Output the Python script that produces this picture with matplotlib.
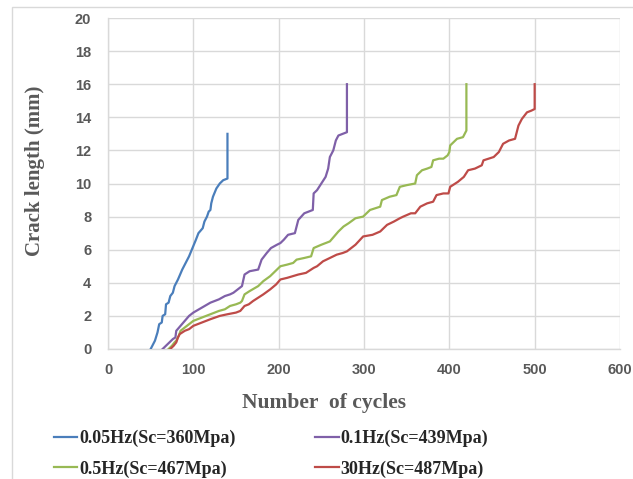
import matplotlib
matplotlib.use("Agg")
import matplotlib.pyplot as plt
from matplotlib.patches import Rectangle

blue_x = [50, 55, 58, 60, 63, 64, 67, 68, 71, 73, 76, 78, 82, 87, 91, 95, 99, 103, 106, 111, 113, 116, 118, 120, 121, 123, 127, 131, 135, 140, 140]
blue_y = [0, 0.5, 1.0, 1.5, 1.6, 2.0, 2.1, 2.7, 2.8, 3.2, 3.4, 3.8, 4.2, 4.8, 5.2, 5.6, 6.1, 6.6, 7.0, 7.3, 7.7, 8.0, 8.3, 8.4, 8.8, 9.2, 9.7, 10.0, 10.2, 10.3, 13.0]

purple_x = [64, 68, 72, 76, 79, 80, 85, 90, 95, 100, 110, 120, 130, 137, 143, 147, 152, 157, 160, 166, 176, 180, 186, 191, 198, 202, 206, 211, 219, 223, 230, 235, 240, 241, 245, 250, 255, 258, 260, 264, 267, 270, 275, 280, 280]
purple_y = [0, 0.2, 0.4, 0.6, 0.7, 1.1, 1.4, 1.7, 2.0, 2.2, 2.5, 2.8, 3.0, 3.2, 3.3, 3.4, 3.6, 3.8, 4.5, 4.7, 4.8, 5.4, 5.8, 6.1, 6.3, 6.4, 6.6, 6.9, 7.0, 7.8, 8.2, 8.3, 8.4, 9.4, 9.6, 10.0, 10.4, 10.9, 11.6, 12.0, 12.6, 12.9, 13.0, 13.1, 16.0]

green_x = [71, 75, 78, 80, 83, 85, 90, 95, 100, 110, 120, 130, 137, 143, 150, 155, 157, 160, 166, 176, 182, 190, 196, 202, 210, 217, 221, 230, 238, 241, 250, 260, 265, 270, 276, 282, 290, 299, 307, 313, 319, 321, 330, 338, 342, 350, 360, 362, 368, 374, 379, 381, 388, 393, 398, 400, 401, 405, 409, 416, 420, 420]
green_y = [0, 0.2, 0.4, 0.5, 0.8, 1.1, 1.3, 1.5, 1.7, 1.9, 2.1, 2.3, 2.4, 2.6, 2.7, 2.8, 2.9, 3.3, 3.5, 3.8, 4.1, 4.4, 4.7, 5.0, 5.1, 5.2, 5.4, 5.5, 5.6, 6.1, 6.3, 6.5, 6.8, 7.1, 7.4, 7.6, 7.9, 8.0, 8.4, 8.5, 8.6, 9.0, 9.2, 9.3, 9.8, 9.9, 10.0, 10.5, 10.8, 10.9, 11.0, 11.4, 11.5, 11.5, 11.7, 11.9, 12.3, 12.5, 12.7, 12.8, 13.2, 16.0]

red_x = [73, 77, 80, 82, 84, 90, 95, 100, 110, 120, 131, 140, 150, 155, 160, 165, 170, 176, 182, 190, 197, 202, 210, 223, 232, 241, 245, 252, 260, 268, 275, 280, 290, 299, 310, 319, 327, 335, 342, 346, 355, 360, 366, 374, 381, 385, 393, 399, 401, 410, 417, 422, 430, 438, 440, 452, 458, 463, 470, 477, 481, 485, 491, 496, 500, 500]
red_y = [0, 0.2, 0.4, 0.7, 0.9, 1.1, 1.2, 1.4, 1.6, 1.8, 2.0, 2.1, 2.2, 2.3, 2.6, 2.7, 2.9, 3.1, 3.3, 3.6, 3.9, 4.2, 4.3, 4.5, 4.6, 4.9, 5.0, 5.3, 5.5, 5.7, 5.8, 5.9, 6.3, 6.8, 6.9, 7.1, 7.5, 7.7, 7.9, 8.0, 8.2, 8.2, 8.6, 8.8, 8.9, 9.3, 9.4, 9.4, 9.8, 10.1, 10.4, 10.8, 10.9, 11.1, 11.4, 11.6, 11.9, 12.4, 12.6, 12.7, 13.5, 13.9, 14.3, 14.4, 14.5, 16.0]

labels = ["0.05Hz(Sc=360Mpa)", "0.1Hz(Sc=439Mpa)", "0.5Hz(Sc=467Mpa)", "30Hz(Sc=487Mpa)"]
colors = ["#4A7EBB", "#7F60A8", "#98B954", "#BE4B48"]

W, H = 633, 479
fig = plt.figure(figsize=(W / 100, H / 100), dpi=100)
ax = fig.add_axes([108 / W, 1 - 349 / H, (620 - 108) / W, (349 - 18) / H])

series = [(blue_x, blue_y), (purple_x, purple_y), (green_x, green_y), (red_x, red_y)]
handles = []
for (xs, ys), c, lab in zip(series, colors, labels):
    h, = ax.plot(xs, ys, color=c, lw=1.6, label=lab, solid_joinstyle="round", zorder=3)
    handles.append(h)

ax.set_xlim(0, 600)
ax.set_ylim(0, 20)
ax.set_xticks(range(0, 601, 100))
ax.set_yticks(range(0, 21, 2))
ax.grid(True, color="#D9D9D9", lw=1.0)
ax.set_axisbelow(True)
for s in ["top", "right"]:
    ax.spines[s].set_visible(False)
for s in ["left", "bottom"]:
    ax.spines[s].set_color("#D9D9D9")
    ax.spines[s].set_linewidth(1.0)
ax.tick_params(axis="x", length=0, pad=10, labelcolor="#595959")
ax.tick_params(axis="y", length=0, pad=12, labelcolor="#595959")
for lab in ax.get_xticklabels() + ax.get_yticklabels():
    lab.set_fontfamily("Liberation Sans")
    lab.set_fontweight("bold")
    lab.set_fontsize(10.5)

ax.set_xlabel("Number  of cycles", fontfamily="Liberation Serif", fontweight="bold",
              fontsize=15.5, color="#595959", va="center")
ax.xaxis.set_label_coords((324 - 108) / 512, (349 - 403) / 331)
ax.set_ylabel("Crack length (mm)", fontfamily="Liberation Serif", fontweight="bold",
              fontsize=15, color="#595959", va="center")
ax.yaxis.set_label_coords((35 - 108) / 512, (349 - 171) / 331)

order = [0, 2, 1, 3]
leg = fig.legend([handles[i] for i in order], [labels[i] for i in order], ncol=2,
                 loc="upper left", bbox_to_anchor=(54 / W, 1 - 430 / H),
                 borderpad=0, borderaxespad=0,
                 frameon=False, handlelength=1.3, handletextpad=0.1,
                 columnspacing=4.4, labelspacing=0.72,
                 prop={"family": "Liberation Serif", "weight": "bold", "size": 13})
for t in leg.get_texts():
    t.set_color("#262626")

fig.patches.append(Rectangle((12 / W, -0.05), 1.1, 1 - 7 / H + 0.05, transform=fig.transFigure,
                             fill=False, edgecolor="#D9D9D9", lw=1.0))

fig.savefig("out.png", dpi=100)
